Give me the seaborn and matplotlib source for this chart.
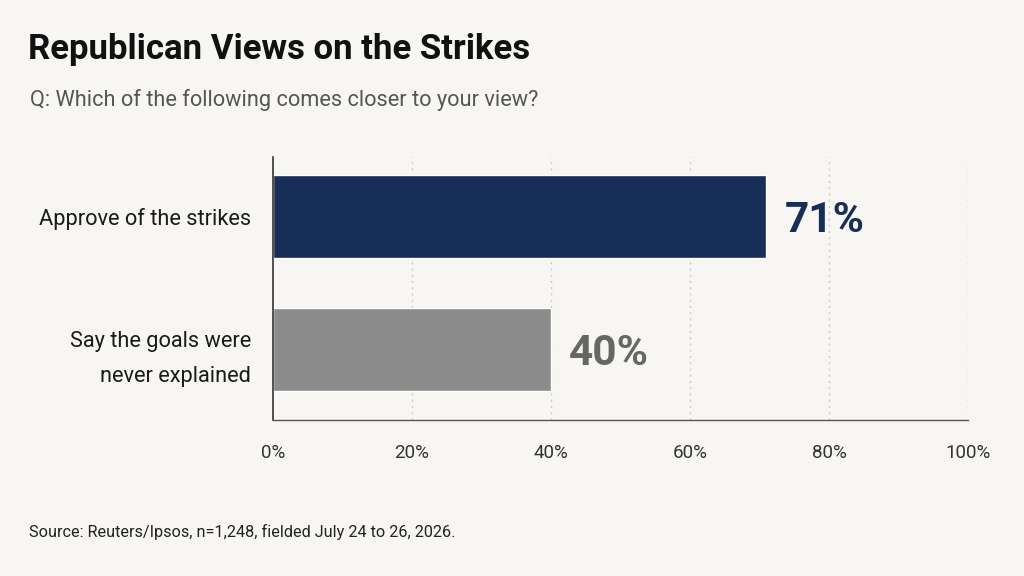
import matplotlib
matplotlib.use("Agg")
import matplotlib.pyplot as plt
import seaborn as sns
import pandas as pd

categories = ["Approve of the strikes", "Say the goals were\nnever explained"]
values = [71, 40]
value_labels = ["71%", "40%"]
bar_colors = ["#172e57", "#8c8c8c"]
label_colors = ["#172e57", "#666666"]
xticks = [0, 20, 40, 60, 80, 100]
xtick_labels = ["0%", "20%", "40%", "60%", "80%", "100%"]

bg = "#f7f6f3"
sns.set_theme(style="white")
plt.rcParams["font.family"] = ["Roboto", "DejaVu Sans"]

fig = plt.figure(figsize=(10.24, 5.76), dpi=100, facecolor=bg)
ax = fig.add_axes([273/1024, 1-420/576, (968-273)/1024, (420-157)/576])
ax.set_facecolor(bg)

df = pd.DataFrame({"cat": categories, "val": values})
sns.barplot(data=df, x="val", y="cat", hue="cat", palette=bar_colors,
            orient="h", width=0.624, legend=False, ax=ax, saturation=1)

ax.set_xlim(0, 100)
ax.set_ylim(1.53, -0.447)
ax.set_xticks(xticks)
ax.set_xticklabels(xtick_labels, fontsize=13.5, color="#333333")
ax.tick_params(axis="x", length=5, width=1, color="#444444", pad=12, direction="out")
ax.tick_params(axis="y", length=0, pad=16)
for lbl in ax.get_yticklabels():
    lbl.set_fontsize(15.7)
    lbl.set_color("#1a1a1a")
    lbl.set_horizontalalignment("right")
    lbl.set_linespacing(1.85)
ax.set_xlabel("")
ax.set_ylabel("")
for x in xticks[1:]:
    ax.axvline(x, color="#cccccc", lw=1, ls=(0, (1.5, 3)), zorder=0)
for s in ["top", "right"]:
    ax.spines[s].set_visible(False)
ax.spines["left"].set_color("#333333")
ax.spines["bottom"].set_color("#555555")
ax.spines["left"].set_linewidth(1.2)
ax.spines["bottom"].set_linewidth(1.0)

for i, (v, t, c) in enumerate(zip(values, value_labels, label_colors)):
    ax.text(v + 2.6, i + 0.03, t, va="center", ha="left", fontsize=30.5,
            fontweight="bold", color=c)

fig.text(28/1024, 1-49/576, "Republican Views on the Strikes", fontsize=25,
         fontweight="bold", color="#111111", va="center", ha="left")
fig.text(30/1024, 1-100/576, "Q: Which of the following comes closer to your view?",
         fontsize=15.7, color="#555555", va="center", ha="left")
fig.text(29/1024, 1-532/576, "Source: Reuters/Ipsos, n=1,248, fielded July 24 to 26, 2026.",
         fontsize=11.7, color="#222222", va="center", ha="left")

fig.savefig("out.png", dpi=100, facecolor=bg)
